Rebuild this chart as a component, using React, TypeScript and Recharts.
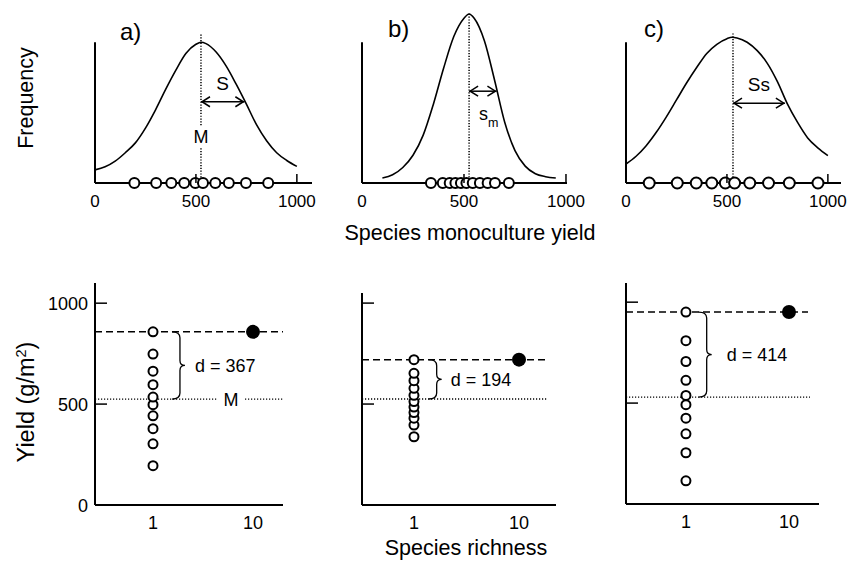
import React from "react";
import { ComposedChart, Line, Scatter, XAxis, YAxis, ReferenceLine } from "recharts";

const FONT = '"Liberation Sans", Arial, Helvetica, sans-serif';
const W = 849;
const H = 561;

// top row: distribution of monoculture yields
const curveYield = [0, 50, 100, 150, 200, 250, 300, 350, 400, 450, 500, 525, 550, 600, 650, 700, 750, 800, 850, 900, 950, 1000];
const freqA = [0.093, 0.115, 0.155, 0.215, 0.285, 0.39, 0.52, 0.665, 0.8, 0.92, 0.985, 1.0, 0.99, 0.93, 0.83, 0.7, 0.56, 0.414, 0.3, 0.215, 0.16, 0.118];
const freqB = [null, null, 0.035, 0.058, 0.11, 0.197, 0.34, 0.56, 0.815, 1.04, 1.17, 1.2, 1.17, 1.01, 0.73, 0.43, 0.23, 0.12, 0.066, 0.045, 0.035, null];
const freqC = [0.135, 0.19, 0.265, 0.36, 0.47, 0.59, 0.71, 0.82, 0.92, 0.985, 1.025, 1.035, 1.03, 1.0, 0.94, 0.85, 0.72, 0.56, 0.43, 0.32, 0.25, 0.195];

// species monoculture yields (g/m2)
const monoA = [195, 303, 378, 442, 497, 535, 596, 663, 748, 858];
const monoB = [338, 396, 430, 458, 485, 512, 543, 578, 616, 652, 720];
const monoC = [115, 254, 348, 425, 492, 538, 613, 706, 809, 951];

// 10-species mixture yield, mean monoculture M, end of spread arrow
const mixtureYield = [858, 720, 951];
const meanYield = [525, 525, 530];
const spreadEnd = [740, 659, 787];

const yieldTicks = [0, 500, 1000];
const bottomYTicks = [0, 500, 1000];
const richnessTicks = [1, 10];
const dLabels = ["d = 367", "d = 194", "d = 414"];

const freqs = [freqA, freqB, freqC];
const monos = [monoA, monoB, monoC];

const topLayout = [
  { left: 95, right: 312, xMax: 1075, arrowY: 0.577, meanTop: 1.064, mGap: [0.255, 0.41], r: 5 },
  { left: 362, right: 567, xMax: 1005, arrowY: 0.652, meanTop: 1.206, mGap: null, r: 5 },
  { left: 626, right: 841, xMax: 1065, arrowY: 0.567, meanTop: 1.064, mGap: null, r: 5.5 },
];

const bottomLayout = [
  { left: 95, right: 283, top: 283, bottom: 505, yMax: 1100, xDomain: [0.263, 19.95], dashEnd: 19.95, dotEnd: 19.95, mGap: [4.37, 8.32], braceX: 1.86, gap: 15 },
  { left: 362, right: 556, top: 293, bottom: 505, yMax: 1050, xDomain: [0.32, 22.5], dashEnd: 17.7, dotEnd: 18.5, mGap: null, braceX: 1.645, gap: 14 },
  { left: 626, right: 819, top: 283, bottom: 504, yMax: 1095, xDomain: [0.262, 19.56], dashEnd: 15.3, dotEnd: 16, mGap: null, braceX: 1.59, gap: 20 },
];

const txt = { fontFamily: FONT, fill: "#000", stroke: "none" };

const openDot = (r: number) => (p: any) => (
  <circle cx={p.cx} cy={p.cy} r={r} fill="#fff" stroke="#000" strokeWidth={2} />
);
const filledDot = (p: any) => <circle cx={p.cx} cy={p.cy} r={7} fill="#000" />;

function TopTick(p: any) {
  const { x, y, payload } = p;
  return (
    <g>
      {payload.value > 0 && <line x1={x} x2={x} y1={y} y2={y - 9} stroke="#000" strokeWidth={1.5} />}
      <text x={x} y={y + 24} textAnchor="middle" fontSize={17} {...txt}>
        {payload.value}
      </text>
    </g>
  );
}

function RichTick(p: any) {
  const { x, y, payload } = p;
  return (
    <text x={x} y={y + 24} textAnchor="middle" fontSize={18} {...txt}>
      {payload.value}
    </text>
  );
}

function YTick(p: any) {
  const { x, y, payload, showLabel } = p;
  return (
    <g>
      {payload.value > 0 && <line x1={x} x2={x + 12} y1={y} y2={y} stroke="#000" strokeWidth={1.5} />}
      {showLabel && (
        <text x={x - 7} y={y + 6.5} textAnchor="end" fontSize={18} {...txt}>
          {payload.value}
        </text>
      )}
    </g>
  );
}

const arrowShape = (i: number) => (p: any) => {
  const { x1, x2, y1 } = p;
  const y = y1;
  return (
    <g>
      <line x1={x1} x2={x2} y1={y} y2={y} stroke="#000" strokeWidth={1.5} />
      <polyline points={`${x1 + 9},${y - 5} ${x1 + 1},${y} ${x1 + 9},${y + 5}`} fill="none" stroke="#000" strokeWidth={1.5} />
      <polyline points={`${x2 - 9},${y - 5} ${x2 - 1},${y} ${x2 - 9},${y + 5}`} fill="none" stroke="#000" strokeWidth={1.5} />
      {i === 0 && (
        <text x={(x1 + x2) / 2} y={y - 12} textAnchor="middle" fontSize={19} {...txt}>S</text>
      )}
      {i === 1 && (
        <text x={x1 + 10} y={y + 29} fontSize={18} {...txt}>
          s<tspan fontSize={12.5} dy={7}>m</tspan>
        </text>
      )}
      {i === 2 && (
        <text x={(x1 + x2) / 2} y={y - 12} textAnchor="middle" fontSize={19} {...txt}>Ss</text>
      )}
    </g>
  );
};

const mLabel = (p: any) => (
  <text x={(p.x1 + p.x2) / 2} y={(p.y1 + p.y2) / 2 + 6.5} textAnchor="middle" fontSize={18} {...txt}>
    M
  </text>
);

const braceShape = (label: string, gap: number) => (p: any) => {
  const x = p.x1;
  const yt = Math.min(p.y1, p.y2);
  const yb = Math.max(p.y1, p.y2);
  const ym = (yt + yb) / 2;
  const d = `M${x - 8},${yt} Q${x},${yt} ${x},${yt + 6} L${x},${ym - 5} Q${x},${ym} ${x + 5},${ym} Q${x},${ym} ${x},${ym + 5} L${x},${yb - 6} Q${x},${yb} ${x - 8},${yb}`;
  return (
    <g>
      <path d={d} fill="none" stroke="#000" strokeWidth={1.3} />
      <text x={x + gap} y={ym + 6.5} fontSize={18} {...txt}>
        {label}
      </text>
    </g>
  );
};

const axisStyle = { stroke: "#000", strokeWidth: 2 };
const layer: React.CSSProperties = { position: "absolute", left: 0, top: 0 };

function TopPanel({ i }: { i: number }) {
  const L = topLayout[i];
  const data = curveYield.map((x, k) => ({ x, f: freqs[i][k] }));
  const dots = monos[i].map((x) => ({ x, f: 0 }));
  const m = meanYield[i];
  const dotted = { stroke: "#000", strokeWidth: 1.5, strokeDasharray: "1.2 1.6" };
  return (
    <div style={layer}>
      <ComposedChart
        width={W}
        height={H}
        data={data}
        margin={{ top: 7, bottom: H - 184, left: L.left, right: W - L.right }}
      >
        <XAxis
          type="number"
          dataKey="x"
          domain={[0, L.xMax]}
          ticks={yieldTicks}
          interval={0}
          height={1}
          tickSize={0}
          tickMargin={0}
          tickLine={false}
          axisLine={axisStyle}
          tick={<TopTick />}
        />
        <YAxis type="number" dataKey="f" domain={[0, 1.25]} hide width={0} />
        <ReferenceLine ifOverflow="visible" segment={[{ x: 0, y: 0 }, { x: 0, y: 1 }]} stroke="#000" strokeWidth={2} />
        {L.mGap ? (
          <>
            <ReferenceLine ifOverflow="visible" segment={[{ x: m, y: L.mGap[1] }, { x: m, y: L.meanTop }]} {...dotted} />
            <ReferenceLine ifOverflow="visible" segment={[{ x: m, y: 0 }, { x: m, y: L.mGap[0] }]} {...dotted} />
            <ReferenceLine ifOverflow="visible" segment={[{ x: m, y: L.mGap[0] }, { x: m, y: L.mGap[1] }]} shape={mLabel} />
          </>
        ) : (
          <ReferenceLine ifOverflow="visible" segment={[{ x: m, y: 0 }, { x: m, y: L.meanTop }]} {...dotted} />
        )}
        <Line dataKey="f" type="monotone" stroke="#000" strokeWidth={1.6} dot={false} isAnimationActive={false} />
        <ReferenceLine
          ifOverflow="visible"
          segment={[{ x: m, y: L.arrowY }, { x: spreadEnd[i], y: L.arrowY }]}
          shape={arrowShape(i)}
        />
        <Scatter data={dots} dataKey="f" shape={openDot(L.r)} isAnimationActive={false} />
      </ComposedChart>
    </div>
  );
}

function BottomPanel({ i }: { i: number }) {
  const L = bottomLayout[i];
  const monoDots = monos[i].map((y) => ({ x: 1, y }));
  const mixDot = [{ x: 10, y: mixtureYield[i] }];
  const x0 = L.xDomain[0];
  const mean = meanYield[i];
  const mix = mixtureYield[i];
  const dotted = { stroke: "#000", strokeWidth: 1.3, strokeDasharray: "1.2 1.8" };
  return (
    <div style={layer}>
      <ComposedChart
        width={W}
        height={H}
        margin={{ top: L.top, bottom: H - L.bottom - 1, left: L.left - 1, right: W - L.right }}
      >
        <XAxis
          type="number"
          dataKey="x"
          scale="log"
          domain={L.xDomain}
          allowDataOverflow
          ticks={richnessTicks}
          interval={0}
          height={1}
          tickSize={0}
          tickMargin={0}
          tickLine={false}
          axisLine={axisStyle}
          tick={<RichTick />}
        />
        <YAxis
          type="number"
          dataKey="y"
          domain={[0, L.yMax]}
          ticks={bottomYTicks}
          interval={0}
          width={1}
          tickSize={0}
          tickMargin={0}
          tickLine={false}
          axisLine={axisStyle}
          tick={<YTick showLabel={i === 0} />}
        />
        {L.mGap ? (
          <>
            <ReferenceLine ifOverflow="visible" segment={[{ x: x0, y: mean }, { x: L.mGap[0], y: mean }]} {...dotted} />
            <ReferenceLine ifOverflow="visible" segment={[{ x: L.mGap[1], y: mean }, { x: L.dotEnd, y: mean }]} {...dotted} />
            <ReferenceLine ifOverflow="visible" segment={[{ x: L.mGap[0], y: mean }, { x: L.mGap[1], y: mean }]} shape={mLabel} />
          </>
        ) : (
          <ReferenceLine ifOverflow="visible" segment={[{ x: x0, y: mean }, { x: L.dotEnd, y: mean }]} {...dotted} />
        )}
        <ReferenceLine
          ifOverflow="visible"
          segment={[{ x: x0, y: mix }, { x: L.dashEnd, y: mix }]}
          stroke="#000"
          strokeWidth={1.5}
          strokeDasharray="7 4"
        />
        <ReferenceLine
          ifOverflow="visible"
          segment={[{ x: L.braceX, y: mix }, { x: L.braceX, y: mean }]}
          shape={braceShape(dLabels[i], L.gap)}
        />
        <Scatter data={monoDots} dataKey="y" shape={openDot(4.5)} isAnimationActive={false} />
        <Scatter data={mixDot} dataKey="y" shape={filledDot} isAnimationActive={false} />
      </ComposedChart>
    </div>
  );
}

function Titles() {
  return (
    <svg width={W} height={H} style={{ ...layer, pointerEvents: "none" }}>
      <text x={120} y={40} fontSize={24} {...txt}>a)</text>
      <text x={388} y={37} fontSize={24} {...txt}>b)</text>
      <text x={644} y={37} fontSize={24} {...txt}>c)</text>
      <text x={33} y={98} fontSize={21.5} textAnchor="middle" transform="rotate(-90 33 98)" {...txt}>
        Frequency
      </text>
      <text x={470} y={240} fontSize={21.5} textAnchor="middle" {...txt}>
        Species monoculture yield
      </text>
      <text x={34} y={402} fontSize={23.5} textAnchor="middle" transform="rotate(-90 34 402)" {...txt}>
        Yield (g/m<tspan fontSize={14.5} dy={-8.5}>2</tspan>
        <tspan dy={8.5}>)</tspan>
      </text>
      <text x={466} y={555} fontSize={21.5} textAnchor="middle" {...txt}>
        Species richness
      </text>
    </svg>
  );
}

export default function App() {
  return (
    <div style={{ position: "absolute", left: 0, top: 0, width: W, height: H, background: "#fff" }}>
      {[0, 1, 2].map((i) => (
        <TopPanel key={`t${i}`} i={i} />
      ))}
      {[0, 1, 2].map((i) => (
        <BottomPanel key={`b${i}`} i={i} />
      ))}
      <Titles />
    </div>
  );
}
